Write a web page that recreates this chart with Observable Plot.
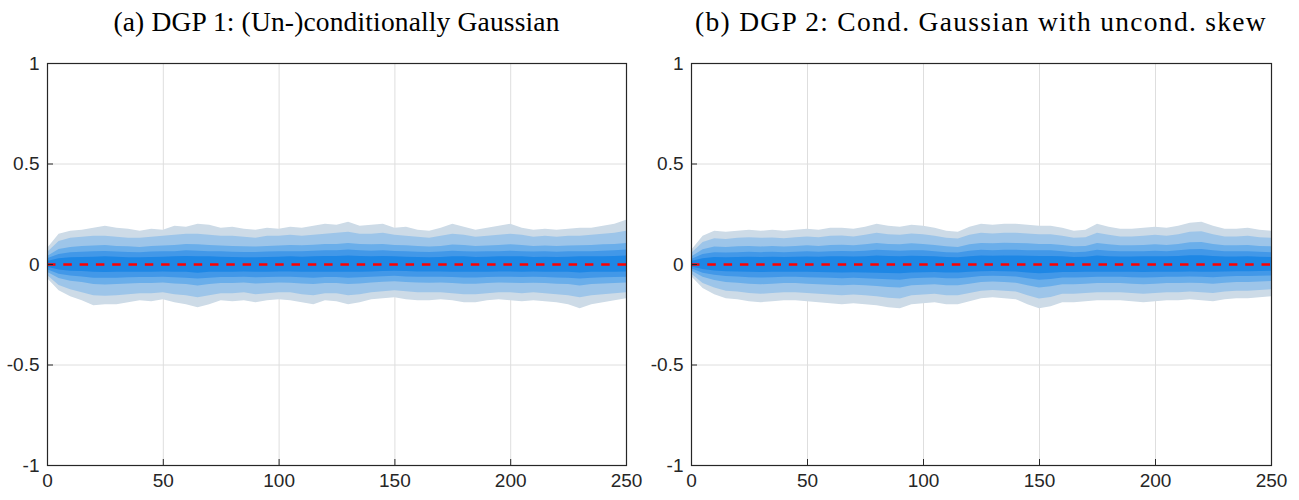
<!DOCTYPE html>
<html><head><meta charset="utf-8">
<script src="https://cdn.jsdelivr.net/npm/d3@7"></script>
<script src="https://cdn.jsdelivr.net/npm/@observablehq/plot@0.6"></script>
<style>
body{margin:0;background:#fff;}
#wrap{display:flex;width:1299px;height:500px;}
.panel{position:relative;height:500px;}
.title{height:44px;font-family:"Liberation Serif","Times New Roman",serif;font-size:27.5px;color:#000;line-height:44px;white-space:nowrap;text-align:center;position:relative;}
svg{display:block;}
</style></head><body>
<div id="wrap"></div>
<script>
// Horizons (x values)
const horizons = [0,5,10,15,20,25,30,35,40,45,50,55,60,65,70,75,80,85,90,95,100,105,110,115,120,125,130,135,140,145,150,155,160,165,170,175,180,185,190,195,200,205,210,215,220,225,230,235,240,245,250];

const xTicks = [0,50,100,150,200,250];
const yTicks = [-1,-0.5,0,0.5,1];
const yTickLabels = ["-1","-0.5","0","0.5","1"];
const titles = ["(a)  DGP 1: (Un-)conditionally Gaussian", "(b)  DGP 2: Cond. Gaussian with uncond. skew"];

// Panel (a) quantile boundaries
const A_q95 = [
0.080,0.150,0.165,0.170,0.180,0.190,0.180,0.175,0.165,0.175,
0.170,0.190,0.185,0.200,0.195,0.180,0.185,0.175,0.170,0.180,
0.175,0.185,0.180,0.190,0.200,0.195,0.210,0.190,0.195,0.200,
0.180,0.185,0.170,0.165,0.180,0.200,0.185,0.170,0.180,0.190,
0.200,0.180,0.170,0.175,0.170,0.175,0.180,0.180,0.190,0.200,
0.220];
const A_q05 = [
-0.070,-0.130,-0.160,-0.180,-0.205,-0.200,-0.200,-0.190,-0.180,-0.185,
-0.175,-0.190,-0.200,-0.215,-0.200,-0.180,-0.185,-0.180,-0.190,-0.180,
-0.175,-0.180,-0.190,-0.200,-0.180,-0.185,-0.200,-0.190,-0.175,-0.170,
-0.165,-0.175,-0.180,-0.180,-0.175,-0.180,-0.190,-0.190,-0.180,-0.175,
-0.180,-0.185,-0.180,-0.185,-0.190,-0.200,-0.220,-0.200,-0.190,-0.180,
-0.170];
const A_q90 = [
0.060,0.115,0.130,0.135,0.140,0.140,0.135,0.130,0.130,0.135,
0.140,0.145,0.150,0.150,0.145,0.140,0.140,0.135,0.130,0.140,
0.140,0.145,0.140,0.145,0.150,0.155,0.160,0.150,0.150,0.155,
0.145,0.140,0.135,0.130,0.140,0.150,0.145,0.135,0.140,0.145,
0.150,0.145,0.135,0.140,0.135,0.140,0.140,0.145,0.150,0.155,
0.165];
const A_q10 = [
-0.055,-0.105,-0.125,-0.140,-0.155,-0.158,-0.155,-0.150,-0.145,-0.145,
-0.140,-0.150,-0.155,-0.165,-0.155,-0.145,-0.145,-0.140,-0.150,-0.145,
-0.140,-0.140,-0.150,-0.155,-0.145,-0.145,-0.155,-0.150,-0.140,-0.135,
-0.130,-0.135,-0.140,-0.140,-0.140,-0.145,-0.150,-0.150,-0.145,-0.140,
-0.140,-0.145,-0.140,-0.145,-0.150,-0.155,-0.165,-0.155,-0.150,-0.145,
-0.140];
const A_q80 = [
0.040,0.075,0.085,0.090,0.092,0.095,0.090,0.088,0.085,0.090,
0.092,0.095,0.100,0.098,0.095,0.092,0.090,0.088,0.087,0.090,
0.092,0.095,0.093,0.096,0.100,0.100,0.105,0.100,0.098,0.100,
0.095,0.093,0.090,0.087,0.090,0.097,0.095,0.090,0.092,0.095,
0.098,0.095,0.090,0.092,0.090,0.092,0.093,0.095,0.098,0.100,
0.105];
const A_q20 = [
-0.038,-0.070,-0.083,-0.090,-0.100,-0.102,-0.100,-0.097,-0.095,-0.095,
-0.092,-0.097,-0.100,-0.107,-0.100,-0.095,-0.095,-0.092,-0.097,-0.095,
-0.092,-0.093,-0.097,-0.100,-0.095,-0.095,-0.100,-0.097,-0.092,-0.088,
-0.086,-0.090,-0.092,-0.093,-0.092,-0.095,-0.098,-0.098,-0.095,-0.092,
-0.093,-0.095,-0.093,-0.095,-0.098,-0.100,-0.107,-0.100,-0.097,-0.095,
-0.092];
const A_q70 = [
0.028,0.050,0.058,0.061,0.063,0.065,0.062,0.060,0.059,0.062,
0.063,0.064,0.068,0.066,0.064,0.063,0.061,0.060,0.060,0.062,
0.063,0.064,0.063,0.066,0.068,0.068,0.072,0.068,0.066,0.068,
0.065,0.063,0.061,0.060,0.062,0.066,0.064,0.062,0.063,0.064,
0.066,0.064,0.062,0.063,0.061,0.063,0.064,0.064,0.066,0.068,
0.072];
const A_q30 = [
-0.026,-0.048,-0.057,-0.062,-0.068,-0.069,-0.068,-0.066,-0.065,-0.065,
-0.063,-0.066,-0.068,-0.072,-0.068,-0.065,-0.065,-0.063,-0.066,-0.065,
-0.063,-0.064,-0.066,-0.068,-0.065,-0.065,-0.068,-0.066,-0.063,-0.061,
-0.059,-0.062,-0.063,-0.064,-0.063,-0.065,-0.067,-0.067,-0.065,-0.063,
-0.064,-0.065,-0.064,-0.065,-0.067,-0.068,-0.072,-0.068,-0.066,-0.065,
-0.063];
const A_q60 = [
0.015,0.028,0.033,0.035,0.036,0.038,0.036,0.034,0.034,0.035,
0.036,0.038,0.040,0.039,0.038,0.036,0.035,0.034,0.034,0.035,
0.036,0.038,0.036,0.039,0.040,0.040,0.042,0.040,0.039,0.040,
0.038,0.036,0.035,0.034,0.035,0.039,0.038,0.035,0.036,0.038,
0.039,0.038,0.035,0.036,0.035,0.036,0.038,0.038,0.039,0.040,
0.042];
const A_q40 = [
-0.014,-0.027,-0.033,-0.035,-0.039,-0.040,-0.039,-0.038,-0.038,-0.038,
-0.037,-0.038,-0.039,-0.043,-0.039,-0.038,-0.038,-0.037,-0.038,-0.038,
-0.037,-0.037,-0.038,-0.039,-0.038,-0.038,-0.039,-0.038,-0.037,-0.035,
-0.034,-0.035,-0.037,-0.037,-0.037,-0.038,-0.039,-0.039,-0.038,-0.037,
-0.037,-0.038,-0.037,-0.038,-0.039,-0.039,-0.042,-0.039,-0.038,-0.038,
-0.037];

// Panel (b) quantile boundaries
const B_q95 = [
0.070,0.140,0.165,0.160,0.165,0.170,0.165,0.170,0.165,0.170,
0.175,0.170,0.180,0.180,0.175,0.185,0.200,0.190,0.185,0.195,
0.190,0.180,0.165,0.160,0.185,0.200,0.195,0.200,0.200,0.195,
0.190,0.190,0.180,0.165,0.170,0.200,0.185,0.175,0.175,0.180,
0.185,0.180,0.190,0.205,0.210,0.190,0.175,0.175,0.180,0.170,
0.165];
const B_q05 = [
-0.060,-0.120,-0.150,-0.170,-0.175,-0.185,-0.190,-0.185,-0.180,-0.180,
-0.185,-0.190,-0.195,-0.200,-0.195,-0.200,-0.205,-0.215,-0.220,-0.200,
-0.195,-0.190,-0.200,-0.200,-0.185,-0.170,-0.165,-0.170,-0.175,-0.200,
-0.220,-0.210,-0.190,-0.190,-0.185,-0.180,-0.180,-0.180,-0.185,-0.190,
-0.185,-0.180,-0.180,-0.175,-0.180,-0.185,-0.175,-0.170,-0.170,-0.165,
-0.160];
const B_q90 = [
0.055,0.110,0.128,0.125,0.130,0.133,0.130,0.132,0.128,0.133,
0.137,0.133,0.140,0.142,0.137,0.145,0.155,0.148,0.145,0.152,
0.148,0.140,0.130,0.127,0.145,0.155,0.152,0.156,0.155,0.152,
0.148,0.148,0.140,0.130,0.133,0.155,0.145,0.137,0.137,0.140,
0.145,0.140,0.148,0.160,0.163,0.148,0.137,0.137,0.140,0.133,
0.130];
const B_q10 = [
-0.047,-0.094,-0.117,-0.133,-0.137,-0.144,-0.148,-0.144,-0.140,-0.140,
-0.144,-0.148,-0.152,-0.156,-0.152,-0.156,-0.160,-0.168,-0.172,-0.156,
-0.152,-0.148,-0.156,-0.156,-0.144,-0.133,-0.129,-0.133,-0.137,-0.156,
-0.172,-0.164,-0.148,-0.148,-0.144,-0.140,-0.140,-0.140,-0.144,-0.148,
-0.144,-0.140,-0.140,-0.137,-0.140,-0.144,-0.137,-0.133,-0.133,-0.129,
-0.125];
const B_q80 = [
0.037,0.074,0.087,0.085,0.088,0.090,0.087,0.090,0.087,0.090,
0.093,0.090,0.095,0.096,0.093,0.098,0.105,0.100,0.098,0.103,
0.100,0.095,0.088,0.085,0.098,0.105,0.103,0.106,0.105,0.103,
0.100,0.100,0.095,0.088,0.090,0.105,0.098,0.093,0.093,0.095,
0.098,0.095,0.100,0.108,0.110,0.100,0.093,0.093,0.095,0.090,
0.088];
const B_q20 = [
-0.032,-0.064,-0.080,-0.090,-0.093,-0.098,-0.101,-0.098,-0.095,-0.095,
-0.098,-0.101,-0.103,-0.106,-0.103,-0.106,-0.109,-0.114,-0.117,-0.106,
-0.103,-0.101,-0.106,-0.106,-0.098,-0.090,-0.087,-0.090,-0.093,-0.106,
-0.117,-0.111,-0.101,-0.101,-0.098,-0.095,-0.095,-0.095,-0.098,-0.101,
-0.098,-0.095,-0.095,-0.093,-0.095,-0.098,-0.093,-0.090,-0.090,-0.087,
-0.085];
const B_q70 = [
0.025,0.050,0.059,0.057,0.059,0.061,0.059,0.061,0.059,0.061,
0.063,0.061,0.064,0.065,0.063,0.066,0.071,0.068,0.066,0.069,
0.068,0.064,0.059,0.057,0.066,0.071,0.069,0.071,0.071,0.069,
0.068,0.068,0.064,0.059,0.061,0.071,0.066,0.063,0.063,0.064,
0.066,0.064,0.068,0.073,0.075,0.068,0.063,0.063,0.064,0.061,
0.059];
const B_q30 = [
-0.021,-0.043,-0.053,-0.060,-0.062,-0.066,-0.067,-0.066,-0.064,-0.064,
-0.066,-0.067,-0.069,-0.071,-0.069,-0.071,-0.073,-0.076,-0.078,-0.071,
-0.069,-0.067,-0.071,-0.071,-0.066,-0.060,-0.059,-0.060,-0.062,-0.071,
-0.078,-0.075,-0.067,-0.067,-0.066,-0.064,-0.064,-0.064,-0.066,-0.067,
-0.066,-0.064,-0.064,-0.062,-0.064,-0.066,-0.062,-0.060,-0.060,-0.059,
-0.057];
const B_q60 = [
0.015,0.029,0.035,0.034,0.035,0.036,0.035,0.036,0.035,0.036,
0.037,0.036,0.038,0.038,0.037,0.039,0.042,0.040,0.039,0.041,
0.040,0.038,0.035,0.034,0.039,0.042,0.041,0.042,0.042,0.041,
0.040,0.040,0.038,0.035,0.036,0.042,0.039,0.037,0.037,0.038,
0.039,0.038,0.040,0.043,0.044,0.040,0.037,0.037,0.038,0.036,
0.035];
const B_q40 = [
-0.013,-0.025,-0.032,-0.036,-0.037,-0.039,-0.040,-0.039,-0.038,-0.038,
-0.039,-0.040,-0.041,-0.042,-0.041,-0.042,-0.043,-0.045,-0.046,-0.042,
-0.041,-0.040,-0.042,-0.042,-0.039,-0.036,-0.035,-0.036,-0.037,-0.042,
-0.046,-0.044,-0.040,-0.040,-0.039,-0.038,-0.038,-0.038,-0.039,-0.040,
-0.039,-0.038,-0.038,-0.037,-0.038,-0.039,-0.037,-0.036,-0.036,-0.035,
-0.034];

const bandColors = ["#cddbe7", "#9dc5e9", "#6aaeea", "#4298e8", "#1e87e5"];
const truthValue = [0];

function makePanel(title, lows, highs, width, ml, mr, spacing) {
  const div = document.createElement("div");
  div.className = "panel";
  div.style.width = width + "px";
  const t = document.createElement("div");
  t.className = "title";
  t.style.marginLeft = ml + "px";
  t.style.width = (width - ml - mr) + "px";
  t.style.letterSpacing = spacing + "px";
  t.textContent = title;
  div.appendChild(t);
  const areas = lows.map((lo, k) => {
    const rows = horizons.map((h, i) => ({t: h, lo: lo[i], hi: highs[k][i]}));
    return Plot.areaY(rows, {x: "t", y1: "lo", y2: "hi", fill: bandColors[k], curve: "linear"});
  });
  const chart = Plot.plot({
    width, height: 456,
    marginTop: 19, marginBottom: 35, marginLeft: ml, marginRight: mr,
    x: {domain: [0, 250], label: null},
    y: {domain: [-1, 1], label: null},
    style: {fontFamily: "'Liberation Sans', Arial, sans-serif", fontSize: "19px", color: "#262626", background: "white", overflow: "visible"},
    marks: [
      Plot.gridX(xTicks.slice(1, -1), {stroke: "#dedede", strokeOpacity: 1}),
      Plot.gridY(yTicks.slice(1, -1), {stroke: "#dedede", strokeOpacity: 1}),
      ...areas,
      Plot.ruleY(truthValue, {stroke: "#ff0000", strokeWidth: 2.5, strokeDasharray: "8.5,7.8"}),
      Plot.frame({stroke: "#262626", strokeWidth: 1.2}),
      Plot.axisX(xTicks, {tickSize: -6, tickFormat: () => "", stroke: "#262626", label: null}),
      Plot.axisX(xTicks, {tickSize: 0, tickPadding: 8, tickFormat: d => String(d), fill: "#262626", label: null}),
      Plot.axisY(yTicks, {tickSize: -6, tickFormat: () => "", stroke: "#262626", label: null}),
      Plot.axisY(yTicks, {tickSize: 0, tickPadding: 8, tickFormat: d => yTickLabels[yTicks.indexOf(d)], fill: "#262626", label: null})
    ]
  });
  div.appendChild(chart);
  return div;
}

const wrap = document.getElementById("wrap");
wrap.appendChild(makePanel(titles[0], [A_q05, A_q10, A_q20, A_q30, A_q40], [A_q95, A_q90, A_q80, A_q70, A_q60], 650, 47, 24, 0.15));
wrap.appendChild(makePanel(titles[1], [B_q05, B_q10, B_q20, B_q30, B_q40], [B_q95, B_q90, B_q80, B_q70, B_q60], 649, 41, 28, 1.3));
</script>
</body></html>
